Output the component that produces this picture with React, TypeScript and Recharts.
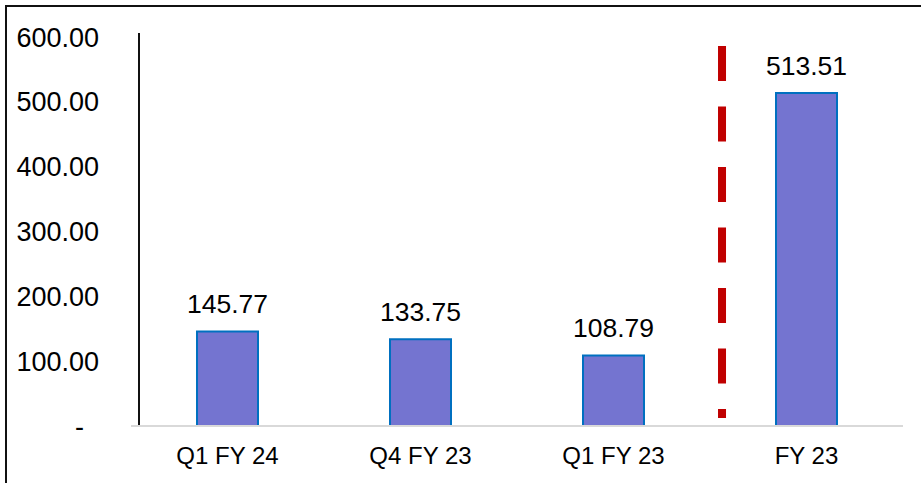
import React from "react";
import { BarChart, Bar, XAxis, YAxis, ReferenceLine, LabelList } from "recharts";

const categories = ["Q1 FY 24", "Q4 FY 23", "Q1 FY 23", "FY 23"];
const values = [145.77, 133.75, 108.79, 513.51];
const yTicks = [0, 100, 200, 300, 400, 500, 600];

const data = categories.map((name, i) => ({ name, value: values[i] }));

const FONT = "'Liberation Sans', Arial, sans-serif";

const YTick = (props: any) => {
  const { x, y, payload } = props;
  const v = payload.value;
  const label = v === 0 ? "-" : Number(v).toFixed(2);
  return (
    <text
      x={v === 0 ? x - 15 : x}
      y={y}
      dy="0.355em"
      textAnchor="end"
      fontSize={27}
      fontFamily={FONT}
      fill="#000"
    >
      {label}
    </text>
  );
};

export default function App() {
  return (
    <div style={{ position: "absolute", left: 0, top: 0, width: 921, height: 483, background: "#fff", overflow: "hidden" }}>
      <div
        style={{
          position: "absolute",
          left: 5,
          top: 5,
          width: 940,
          height: 500,
          borderLeft: "2px solid #111",
          borderTop: "2px solid #111",
          pointerEvents: "none",
        }}
      />
      <BarChart
        width={921}
        height={483}
        data={data}
        margin={{ top: 37, right: 18, left: 0, bottom: 0 }}
        barCategoryGap={0}
      >
        <XAxis
          dataKey="name"
          height={57}
          tickLine={false}
          tickSize={0}
          tickMargin={21}
          axisLine={{ stroke: "#d9d9d9", strokeWidth: 2 }}
          tick={{ fontSize: 24, fontFamily: FONT, fill: "#000" }}
          interval={0}
        />
        <XAxis xAxisId="num" type="number" domain={[0, 3]} allowDataOverflow hide />
        <YAxis
          width={131}
          domain={[0, 600]}
          ticks={yTicks}
          axisLine={false}
          tickLine={false}
          tickSize={0}
          tickMargin={32}
          tick={<YTick />}
          interval={0}
        />
        <ReferenceLine
          xAxisId="num"
          ifOverflow="visible"
          segment={[{ x: 0.0311, y: 0 }, { x: 2.942, y: 0 }]}
          stroke="#111"
          strokeWidth={2}
        />
        <ReferenceLine
          xAxisId="num"
          ifOverflow="visible"
          segment={[{ x: 0.0311, y: 0 }, { x: 0.0311, y: 606 }]}
          stroke="#111"
          strokeWidth={2}
        />
        <ReferenceLine
          xAxisId="num"
          ifOverflow="visible"
          segment={[{ x: 2.2967, y: 586 }, { x: 2.2967, y: 12.3 }]}
          stroke="#C00000"
          strokeWidth={8}
          strokeDasharray="35 25.5"
        />
        <Bar
          dataKey="value"
          fill="#7474D0"
          stroke="#0070C0"
          strokeWidth={2}
          barSize={61}
          isAnimationActive={false}
        >
          <LabelList
            dataKey="value"
            position="top"
            offset={18}
            formatter={(v: any) => Number(v).toFixed(2)}
            style={{ fontSize: 26.5, fontFamily: FONT, fill: "#000" }}
          />
        </Bar>
      </BarChart>
    </div>
  );
}
